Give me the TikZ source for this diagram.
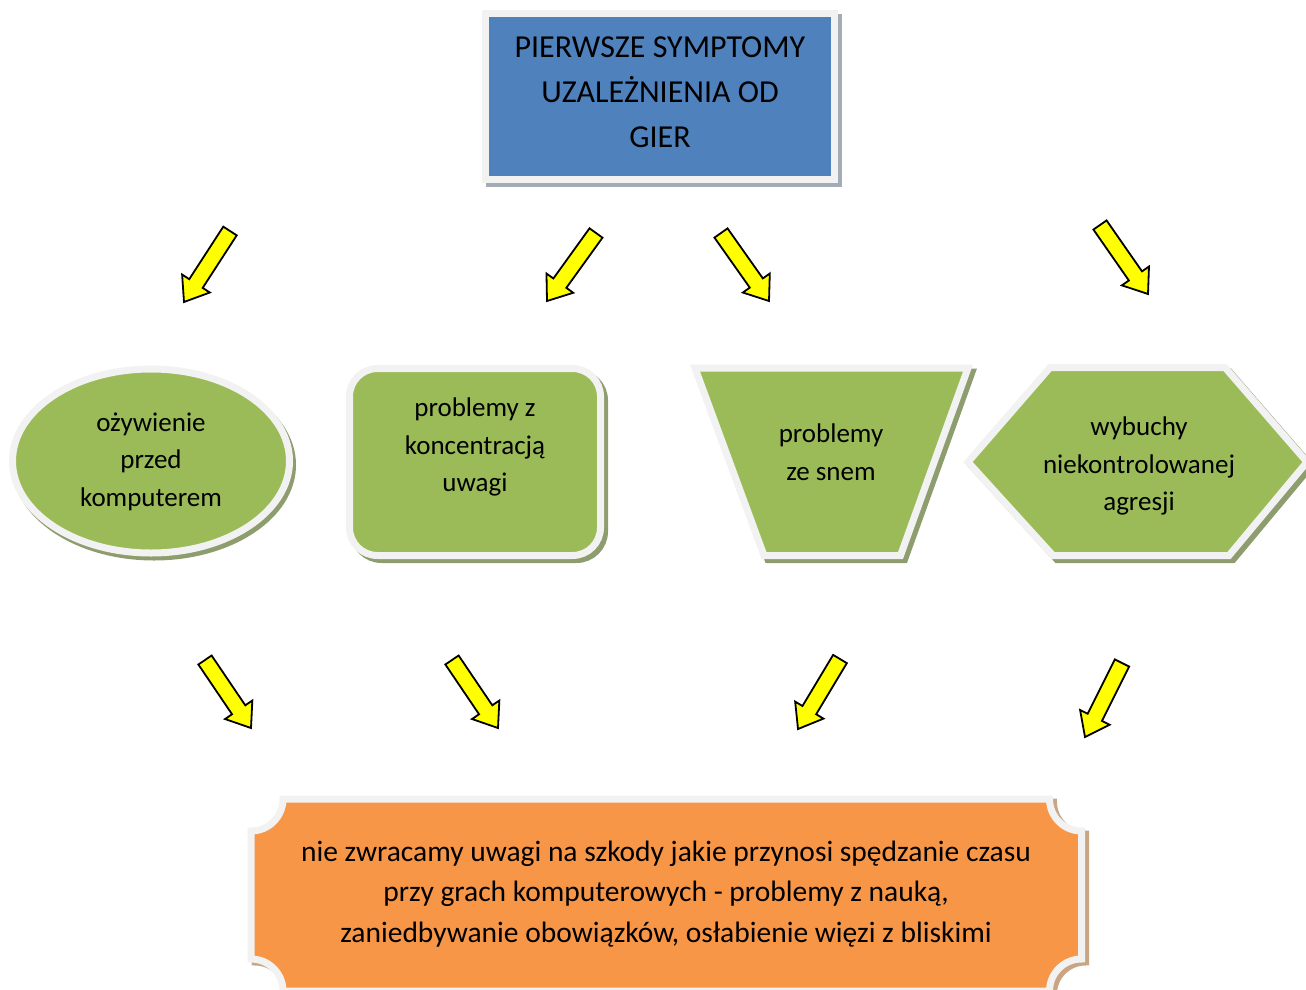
\documentclass[tikz,border=0pt]{standalone}
\usepackage{fontspec}
\setmainfont{Carlito}
\usetikzlibrary{calc}
\definecolor{blueF}{HTML}{4F81BD}
\definecolor{greenF}{HTML}{9BBB59}
\definecolor{orangeF}{HTML}{F79646}
\definecolor{frameC}{HTML}{F2F2F2}
\definecolor{blueS}{HTML}{A3ABB7}
\definecolor{greenS}{HTML}{8E9D6E}
\definecolor{orangeS}{HTML}{C9A584}
\definecolor{arrowY}{HTML}{FFFF00}
\tikzset{
  framed/.style={draw=frameC, line width=7pt},
  shad/.style={draw=#1, fill=#1, line width=7pt},
  yarrow/.style={fill=arrowY, draw=black, line width=1.8pt, line join=miter},
  toptext/.style={align=center, font=\fontsize{32}{45}\selectfont, text=black, inner sep=0pt},
  gtext/.style={align=center, font=\fontsize{27}{37.5}\selectfont, text=black, inner sep=0pt},
  btext/.style={align=center, font=\fontsize{29.5}{40.5}\selectfont, text=black, inner sep=0pt},
}
\newcommand\blockarr[3]{%
  \coordinate (#1t) at (#2);
  \coordinate (#1h) at (#3);
  \coordinate (#1b) at ($(#1h)!22pt!(#1t)$);
  \draw[yarrow] ($(#1t)!8pt!90:(#1h)$) -- ($(#1b)!8pt!90:(#1h)$) -- ($(#1b)!16.5pt!90:(#1h)$) -- (#1h)
    -- ($(#1b)!16.5pt!-90:(#1h)$) -- ($(#1b)!8pt!-90:(#1h)$) -- ($(#1t)!8pt!-90:(#1h)$) -- cycle;
}
\begin{document}
\begin{tikzpicture}[x=1pt,y=-1pt]
\useasboundingbox (0,0) rectangle (1306,990);
% top box
\draw[shad=blueS, shift={(4,4)}] (485.5,13.5) rectangle (834.5,179.5);
\draw[framed, fill=blueF] (485.5,13.5) rectangle (834.5,179.5);
\node[toptext] (top) at (660,92.5) {PIERWSZE SYMPTOMY\\UZALEŻNIENIA OD\\GIER};
% ellipse
\draw[shad=greenS, shift={(3,4)}] (151,461) ellipse [x radius=138.5, y radius=92];
\draw[framed, fill=greenF] (151,461) ellipse [x radius=138.5, y radius=92];
\node[gtext] (s1) at (151,461.5) {ożywienie\\przed\\komputerem};
% rounded rectangle
\draw[shad=greenS, shift={(4,4)}, rounded corners=28pt] (349.5,368.5) rectangle (600.5,555.5);
\draw[framed, fill=greenF, rounded corners=28pt] (349.5,368.5) rectangle (600.5,555.5);
\node[gtext] (s2) at (475,447) {problemy z\\koncentracją\\uwagi};
% trapezoid
\draw[shad=greenS, shift={(4,4)}] (695,368) -- (968,368) -- (900.5,555.5) -- (764,555.5) -- cycle;
\draw[framed, fill=greenF] (695,368) -- (968,368) -- (900.5,555.5) -- (764,555.5) -- cycle;
\node[gtext] (s3) at (831,452) {problemy\\ze snem};
% hexagon
\draw[shad=greenS, shift={(4,4)}] (968,462) -- (1050,367.5) -- (1225,367.5) -- (1307,462) -- (1229,555.5) -- (1053,555.5) -- cycle;
\draw[framed, fill=greenF] (968,462) -- (1050,367.5) -- (1225,367.5) -- (1307,462) -- (1229,555.5) -- (1053,555.5) -- cycle;
\node[gtext] (s4) at (1139,466) {wybuchy\\niekontrolowanej\\agresji};
% bottom plaque
\draw[shad=orangeS, shift={(4,3)}] (251,831) arc[start angle=90, end angle=0, radius=32] -- (1049.5,799) arc[start angle=180, end angle=90, radius=32] -- (1081.5,959) arc[start angle=270, end angle=180, radius=32] -- (283,991) arc[start angle=0, end angle=-90, radius=32] -- cycle;
\draw[framed, fill=orangeF] (251,831) arc[start angle=90, end angle=0, radius=32] -- (1049.5,799) arc[start angle=180, end angle=90, radius=32] -- (1081.5,959) arc[start angle=270, end angle=180, radius=32] -- (283,991) arc[start angle=0, end angle=-90, radius=32] -- cycle;
\node[btext] (bot) at (666,894) {nie zwracamy uwagi na szkody jakie przynosi spędzanie czasu\\przy grach komputerowych - problemy z nauką,\\zaniedbywanie obowiązków, osłabienie więzi z bliskimi};
% arrows
\blockarr{a1}{230,231}{184,302}
\blockarr{a2}{596,233}{547,301}
\blockarr{a3}{721,233}{769,301}
\blockarr{a4}{1100,225}{1148,294}
\blockarr{a5}{205,660}{251,728}
\blockarr{a6}{452,660}{498,728}
\blockarr{a7}{840,659}{798,729}
\blockarr{a8}{1122,663}{1085,737}
\end{tikzpicture}
\end{document}
